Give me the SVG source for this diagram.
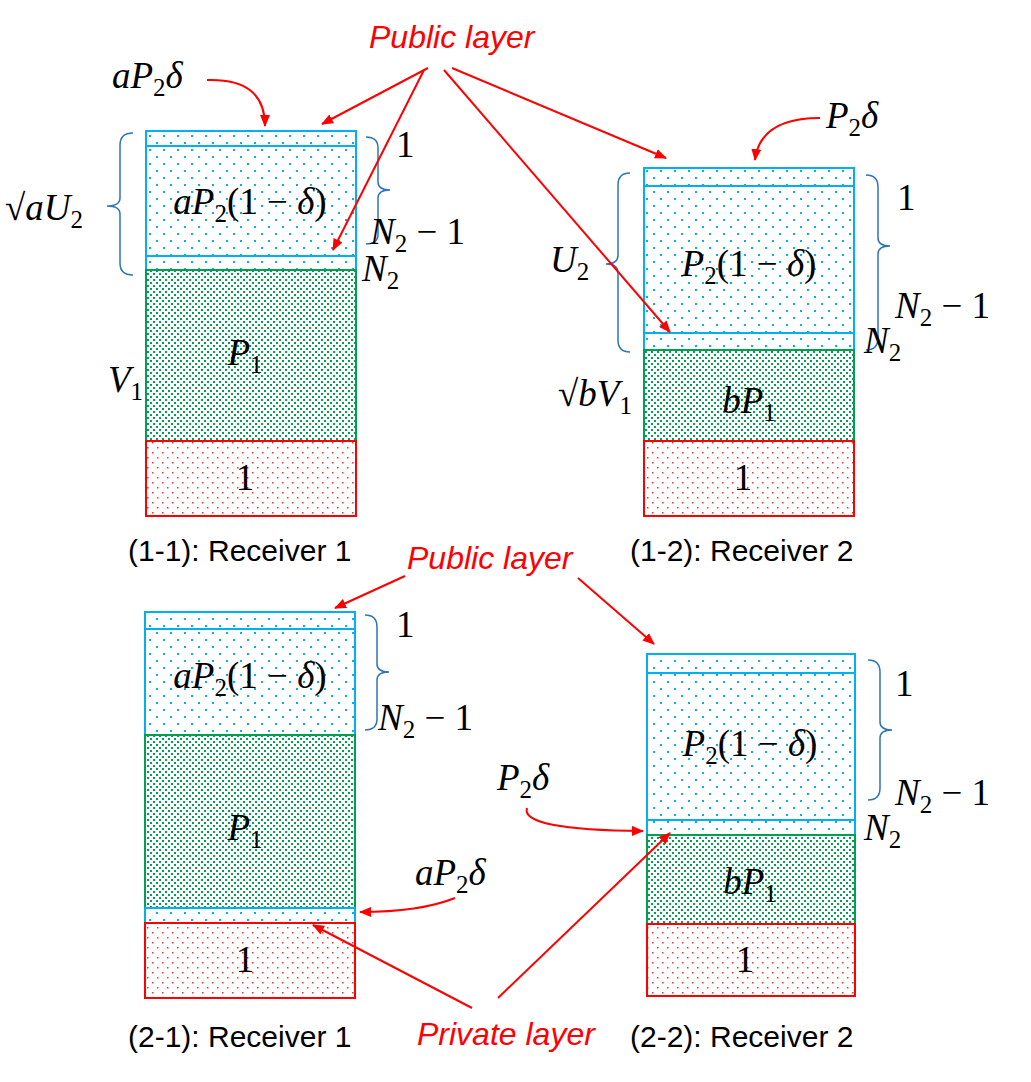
<svg xmlns="http://www.w3.org/2000/svg" width="1031" height="1082" viewBox="0 0 1031 1082">
<defs>
<pattern id="pb" width="14" height="14" patternUnits="userSpaceOnUse"><rect width="14" height="14" fill="#fff"/><rect x="2" y="2" width="2" height="2" fill="#00b0f0"/><rect x="9" y="9" width="2" height="2" fill="#00b0f0"/></pattern>
<pattern id="pg" width="6" height="6" patternUnits="userSpaceOnUse"><rect width="6" height="6" fill="#fff"/><rect x="0" y="0" width="2" height="2" fill="#00a050"/><rect x="3" y="3" width="2" height="2" fill="#00a050"/></pattern>
<pattern id="pr" width="10" height="10" patternUnits="userSpaceOnUse"><rect width="10" height="10" fill="#fff"/><rect x="2" y="2" width="1.5" height="1.5" fill="#ff3030"/><rect x="7" y="7" width="1.5" height="1.5" fill="#ff3030"/></pattern>
<marker id="ah" markerWidth="12" markerHeight="10" refX="11" refY="5" orient="auto" markerUnits="userSpaceOnUse"><path d="M0,0 L12,5 L0,10 z" fill="#ff0000"/></marker>
</defs>
<style>
.b{fill:url(#pb);stroke:#00b0f0;stroke-width:2}
.g{fill:url(#pg);stroke:#00a050;stroke-width:2}
.r{fill:url(#pr);stroke:#ff0000;stroke-width:2}
.m{font-family:"Liberation Serif",serif;font-style:italic;font-size:37px;fill:#000}
.n{font-family:"Liberation Serif",serif;font-style:normal}
.s{font-size:25px;font-style:normal}
.mid{text-anchor:middle}
.c{font-family:"Liberation Sans",sans-serif;font-size:30px;fill:#000}
.red{font-family:"Liberation Sans",sans-serif;font-style:italic;font-size:32px;fill:#ff0000}
.br{fill:none;stroke:#2e75b6;stroke-width:1.5}
.a{fill:none;stroke:#ff0000;stroke-width:2;marker-end:url(#ah)}
</style>
<g id="n11">
<rect class="b" x="146" y="131" width="210" height="15"/>
<rect class="b" x="146" y="146" width="210" height="110"/>
<rect class="b" x="146" y="256" width="210" height="14"/>
<rect class="g" x="146" y="270" width="210" height="171"/>
<rect class="r" x="146" y="441" width="210" height="75"/>
<text class="m mid" x="250" y="214">aP<tspan class="s" dy="8">2</tspan><tspan dy="-8" class="n">(1 − </tspan>δ<tspan class="n">)</tspan></text>
<text class="m mid" x="245" y="365">P<tspan class="s" dy="8">1</tspan></text>
<text class="m n mid" x="245" y="490">1</text>
<text class="m" x="108" y="392">V<tspan class="s" dy="8">1</tspan></text>
<text class="m" x="5" y="220"><tspan class="n">√</tspan>aU<tspan class="s" dy="8">2</tspan></text>
<path class="br" d="M133,133 Q120,133 120,145 L120,198 Q120,206 107,206 Q120,206 120,214 L120,263 Q120,275 133,275"/>
<path class="br" d="M366,137 Q378,137 378,148 L378,182 Q378,190 390,190 Q378,190 378,198 L378,234 Q378,244 366,244"/>
<text class="m n" x="396" y="157">1</text>
<text class="m" x="370" y="244">N<tspan class="s" dy="8">2</tspan><tspan dy="-8" class="n"> − 1</tspan></text>
<text class="m" x="362" y="281">N<tspan class="s" dy="8">2</tspan></text>
<text class="m" x="112" y="88">aP<tspan class="s" dy="8">2</tspan><tspan dy="-8">δ</tspan></text>
<text class="c" x="128" y="561">(1-1): Receiver 1</text>
</g>
<g id="n12">
<rect class="b" x="644" y="168" width="210" height="18"/>
<rect class="b" x="644" y="186" width="210" height="147"/>
<rect class="b" x="644" y="333" width="210" height="17"/>
<rect class="g" x="644" y="350" width="210" height="91"/>
<rect class="r" x="644" y="441" width="210" height="75"/>
<text class="m mid" x="749" y="276">P<tspan class="s" dy="8">2</tspan><tspan dy="-8" class="n">(1 − </tspan>δ<tspan class="n">)</tspan></text>
<text class="m mid" x="749" y="413">bP<tspan class="s" dy="8">1</tspan></text>
<text class="m n mid" x="743" y="490">1</text>
<text class="m" x="558" y="406"><tspan class="n">√</tspan>bV<tspan class="s" dy="8">1</tspan></text>
<text class="m" x="550" y="272">U<tspan class="s" dy="8">2</tspan></text>
<path class="br" d="M630,173 Q618,173 618,185 L618,255 Q618,264 606,264 Q618,264 618,273 L618,340 Q618,352 630,352"/>
<path class="br" d="M866,175 Q878,175 878,187 L878,238 Q878,246 890,246 Q878,246 878,254 L878,338 Q878,350 866,350"/>
<text class="m n" x="897" y="210">1</text>
<text class="m" x="895" y="318">N<tspan class="s" dy="8">2</tspan><tspan dy="-8" class="n"> − 1</tspan></text>
<text class="m" x="864" y="353">N<tspan class="s" dy="8">2</tspan></text>
<text class="m" x="826" y="128">P<tspan class="s" dy="8">2</tspan><tspan dy="-8">δ</tspan></text>
<text class="c" x="630" y="561">(1-2): Receiver 2</text>
</g>
<g id="n21">
<rect class="b" x="145" y="612" width="210" height="17"/>
<rect class="b" x="145" y="629" width="210" height="106"/>
<rect class="g" x="145" y="735" width="210" height="173"/>
<rect class="b" x="145" y="908" width="210" height="15"/>
<rect class="r" x="145" y="923" width="210" height="75"/>
<text class="m mid" x="250" y="688">aP<tspan class="s" dy="8">2</tspan><tspan dy="-8" class="n">(1 − </tspan>δ<tspan class="n">)</tspan></text>
<text class="m mid" x="245" y="840">P<tspan class="s" dy="8">1</tspan></text>
<text class="m n mid" x="245" y="972">1</text>
<path class="br" d="M365,615 Q377,615 377,627 L377,664 Q377,672 389,672 Q377,672 377,680 L377,719 Q377,730 365,730"/>
<text class="m n" x="396" y="637">1</text>
<text class="m" x="378" y="730">N<tspan class="s" dy="8">2</tspan><tspan dy="-8" class="n"> − 1</tspan></text>
<text class="m" x="415" y="885">aP<tspan class="s" dy="8">2</tspan><tspan dy="-8">δ</tspan></text>
<text class="c" x="128" y="1047">(2-1): Receiver 1</text>
</g>
<g id="n22">
<rect class="b" x="647" y="654" width="208" height="19"/>
<rect class="b" x="647" y="673" width="208" height="147"/>
<rect class="b" x="647" y="820" width="208" height="15"/>
<rect class="g" x="647" y="835" width="208" height="89"/>
<rect class="r" x="647" y="924" width="208" height="72"/>
<text class="m mid" x="750" y="756">P<tspan class="s" dy="8">2</tspan><tspan dy="-8" class="n">(1 − </tspan>δ<tspan class="n">)</tspan></text>
<text class="m mid" x="750" y="894">bP<tspan class="s" dy="8">1</tspan></text>
<text class="m n mid" x="745" y="972">1</text>
<path class="br" d="M868,660 Q880,660 880,672 L880,722 Q880,730 892,730 Q880,730 880,738 L880,788 Q880,800 868,800"/>
<text class="m n" x="895" y="696">1</text>
<text class="m" x="895" y="805">N<tspan class="s" dy="8">2</tspan><tspan dy="-8" class="n"> − 1</tspan></text>
<text class="m" x="864" y="840">N<tspan class="s" dy="8">2</tspan></text>
<text class="m" x="497" y="790">P<tspan class="s" dy="8">2</tspan><tspan dy="-8">δ</tspan></text>
<text class="c" x="630" y="1047">(2-2): Receiver 2</text>
</g>
<g id="labels">
<text class="red" x="369" y="48">Public layer</text>
<text class="red" x="407" y="569">Public layer</text>
<text class="red" x="417" y="1045">Private layer</text>
</g>
<g id="connectors">
<path class="a" d="M207,80 Q265,78 265,126"/>
<path class="a" d="M428,68 L322,124"/>
<path class="a" d="M424,70 L333,250"/>
<path class="a" d="M452,68 L666,158"/>
<path class="a" d="M444,70 L670,332"/>
<path class="a" d="M820,118 Q760,118 755,160"/>
<path class="a" d="M405,576 L335,608"/>
<path class="a" d="M578,578 L654,644"/>
<path class="a" d="M455,898 Q420,912 360,912"/>
<path class="a" d="M527,808 Q520,830 643,831"/>
<path class="a" d="M498,998 L670,833"/>
<path class="a" d="M472,1008 L313,925"/>
</g>
</svg>
